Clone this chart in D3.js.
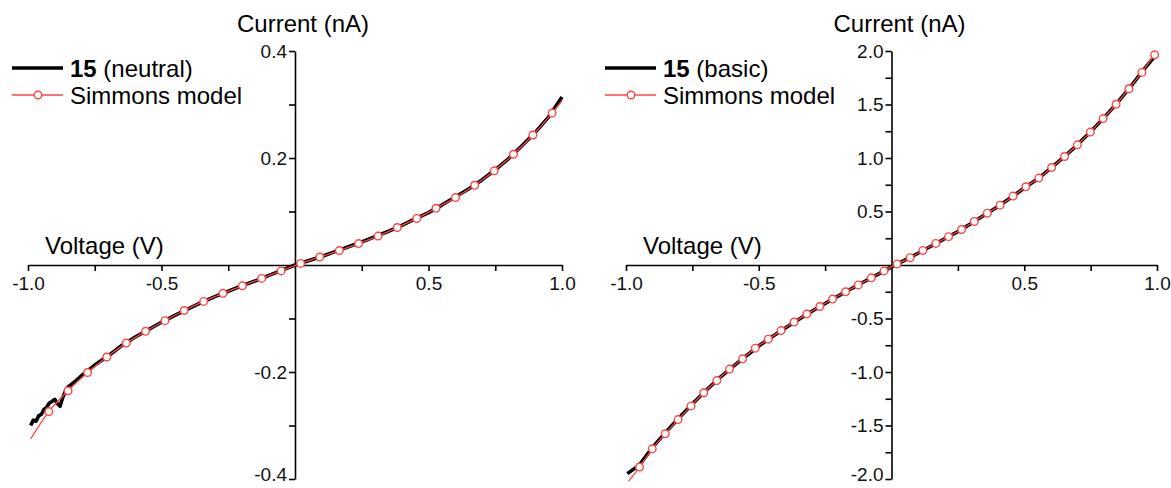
<!DOCTYPE html>
<html>
<head>
<meta charset="utf-8">
<script src="https://cdn.jsdelivr.net/npm/d3@7"></script>
<style>
  body { margin: 0; background: #fff; }
  svg { display: block; font-family: 'Liberation Sans', Arial, sans-serif; }
</style>
</head>
<body>
<div id="chart-area"></div>
<script>
// measured data, left panel (neutral)
const neutralV = [-0.99, -0.98, -0.97, -0.96, -0.95, -0.94, -0.93, -0.92, -0.91, -0.90, -0.89, -0.88, -0.87, -0.86, -0.85, -0.84, -0.82, -0.80, -0.78, -0.75,
  -0.70, -0.65, -0.60, -0.55, -0.50, -0.45, -0.40, -0.35, -0.30, -0.25, -0.20, -0.15, -0.10, -0.05, 0.00,
  0.05, 0.10, 0.15, 0.20, 0.25, 0.30, 0.35, 0.40, 0.45, 0.50, 0.55, 0.60, 0.65, 0.70, 0.75, 0.80, 0.85, 0.90, 0.95, 1.00]
const neutralI = [-0.300, -0.290, -0.292, -0.282, -0.279, -0.270, -0.266, -0.258, -0.255, -0.251, -0.259, -0.264, -0.248, -0.236, -0.228, -0.224, -0.216, -0.207, -0.199, -0.187,
  -0.170, -0.151, -0.135, -0.121, -0.107, -0.094, -0.082, -0.070, -0.059, -0.049, -0.039, -0.030, -0.020, -0.010, 0.000,
  0.008, 0.016, 0.025, 0.034, 0.043, 0.053, 0.063, 0.074, 0.086, 0.098, 0.112, 0.127, 0.142, 0.159, 0.178, 0.199, 0.223, 0.248, 0.277, 0.314]

// Simmons fit, left panel
const neutralFitV = [-0.99, -0.922, -0.850, -0.777, -0.705, -0.632, -0.560, -0.487, -0.415, -0.342, -0.270, -0.197, -0.125, -0.052,
  0.021, 0.093, 0.166, 0.238, 0.311, 0.383, 0.456, 0.528, 0.601, 0.673, 0.746, 0.818, 0.891, 0.963, 1.00]
const neutralFitI = [-0.325, -0.274, -0.235, -0.201, -0.172, -0.146, -0.124, -0.104, -0.085, -0.068, -0.053, -0.039, -0.025, -0.011,
  0.003, 0.015, 0.027, 0.040, 0.054, 0.070, 0.087, 0.106, 0.126, 0.149, 0.176, 0.207, 0.243, 0.284, 0.307]

// measured data, right panel (basic)
const basicV = [-0.995, -0.95, -0.90, -0.85, -0.80, -0.75, -0.70, -0.65, -0.60, -0.55, -0.50, -0.45, -0.40, -0.35, -0.30, -0.25, -0.20, -0.15, -0.10, -0.05, 0.00,
  0.05, 0.10, 0.15, 0.20, 0.25, 0.30, 0.35, 0.40, 0.45, 0.50, 0.55, 0.60, 0.65, 0.70, 0.75, 0.80, 0.85, 0.90, 0.95, 1.00]
const basicI = [-1.950, -1.870, -1.705, -1.562, -1.428, -1.300, -1.175, -1.060, -0.955, -0.855, -0.757, -0.670, -0.589, -0.509, -0.433, -0.360, -0.289, -0.220, -0.152, -0.085, -0.018,
  0.045, 0.110, 0.178, 0.245, 0.312, 0.388, 0.468, 0.545, 0.630, 0.720, 0.803, 0.905, 1.010, 1.123, 1.245, 1.375, 1.515, 1.665, 1.825, 1.975]

// Simmons fit, right panel
const basicFitV = [-0.99, -0.949, -0.901, -0.852, -0.804, -0.755, -0.707, -0.658, -0.610, -0.561, -0.513, -0.464, -0.416, -0.367, -0.319, -0.270, -0.222, -0.173, -0.125, -0.076, -0.028,
  0.021, 0.070, 0.118, 0.167, 0.215, 0.264, 0.312, 0.361, 0.409, 0.458, 0.506, 0.555, 0.603, 0.652, 0.700, 0.749, 0.797, 0.846, 0.894, 0.943, 0.991, 1.00]
const basicFitI = [-2.020, -1.888, -1.718, -1.577, -1.445, -1.317, -1.194, -1.080, -0.973, -0.877, -0.777, -0.693, -0.613, -0.533, -0.459, -0.388, -0.318, -0.250, -0.186, -0.120, -0.055,
  0.010, 0.068, 0.136, 0.202, 0.265, 0.332, 0.407, 0.484, 0.559, 0.644, 0.731, 0.812, 0.911, 1.014, 1.123, 1.242, 1.368, 1.502, 1.647, 1.800, 1.965, 1.990]

const xTicks = [-1.0, -0.5, 0.5, 1.0]
const xMinor = [-0.75, -0.25, 0.25, 0.75]
const neutralYTicks = [-0.4, -0.2, 0.2, 0.4]
const neutralYMinor = [-0.3, -0.1, 0.1, 0.3]
const basicYTicks = [-2.0, -1.5, -1.0, -0.5, 0.5, 1.0, 1.5, 2.0]
const basicYMinor = [-1.75, -1.25, -0.75, -0.25, 0.25, 0.75, 1.25, 1.75]

const red = '#ff4545'

const svg = d3.select('#chart-area')
  .append('svg')
    .attr('width', 1171)
    .attr('height', 488)

function drawPanel(p) {
  const x = d3.scaleLinear().domain([-1, 1]).range([p.left, p.right])
  const y = d3.scaleLinear().domain([-p.yMax, p.yMax]).range([479, 51])
  const g = svg.append('g')
  const fmt = d => d.toFixed(1)

  // x axis through y = 0
  g.append('g')
    .attr('transform', `translate(0,${y(0)})`)
    .call(d3.axisBottom(x).tickValues(p.xTicks).tickFormat(fmt).tickSize(6).tickSizeOuter(0).tickPadding(6))
  g.append('g')
    .attr('transform', `translate(0,${y(0)})`)
    .call(d3.axisBottom(x).tickValues(p.xMinor).tickFormat('').tickSize(6).tickSizeOuter(0))
    .select('.domain').remove()

  // y axis through x = 0
  const yAxis = g.append('g')
    .attr('transform', `translate(${x(0)},0)`)
    .call(d3.axisLeft(y).tickValues(p.yTicks).tickFormat(fmt).tickSize(6).tickSizeOuter(0).tickPadding(2))
  g.append('g')
    .attr('transform', `translate(${x(0)},0)`)
    .call(d3.axisLeft(y).tickValues(p.yMinor).tickFormat('').tickSize(6).tickSizeOuter(0))
    .select('.domain').remove()

  g.selectAll('.domain, .tick line').attr('stroke', '#000').attr('stroke-width', 1.6)
  g.selectAll('.tick text').attr('font-size', '19px').attr('fill', '#111')
    .attr('font-family', "'Liberation Sans', Arial, sans-serif")

  // lowest label sits on the page edge, nudge it up a little
  yAxis.selectAll('.tick text').filter(d => d === -p.yMax).attr('dy', '0.1em')

  g.append('text')
    .attr('x', x(0) + 8)
    .attr('y', 32)
    .attr('font-size', '24px')
    .attr('text-anchor', 'middle')
    .text('Current (nA)')

  g.append('text')
    .attr('x', x(-1) + 17)
    .attr('y', 254)
    .attr('font-size', '24px')
    .text('Voltage (V)')

  const line = d3.line()
    .x(d => x(d[0]))
    .y(d => y(d[1]))

  const data = p.v.map((v, i) => [v, p.i[i]])
  const fit = p.fitV.map((v, i) => [v, p.fitI[i]])

  g.append('path')
    .datum(data)
    .attr('fill', 'none')
    .attr('stroke', '#000')
    .attr('stroke-width', 3.6)
    .attr('stroke-linejoin', 'round')
    .attr('d', line)

  g.append('path')
    .datum(fit)
    .attr('fill', 'none')
    .attr('stroke', red)
    .attr('stroke-width', 1.3)
    .attr('d', line.curve(d3.curveMonotoneX))

  // markers on every fit point except the two ends
  g.selectAll('circle.fit')
    .data(fit.slice(1, -1))
    .enter()
    .append('circle')
      .attr('class', 'fit')
      .attr('cx', d => x(d[0]))
      .attr('cy', d => y(d[1]))
      .attr('r', 3.8)
      .attr('fill', '#fff')
      .attr('stroke', red)
      .attr('stroke-width', 1.4)

  // legend
  const lg = g.append('g').attr('transform', `translate(${p.legendX},0)`)
  lg.append('line')
    .attr('x1', 0).attr('x2', 51).attr('y1', 68).attr('y2', 68)
    .attr('stroke', '#000').attr('stroke-width', 3.6)
  const t = lg.append('text').attr('x', 58).attr('y', 77).attr('font-size', '24px')
  t.append('tspan').attr('font-weight', 'bold').text('15')
  t.append('tspan').text(' ' + p.label)

  lg.append('line')
    .attr('x1', 0).attr('x2', 51).attr('y1', 95).attr('y2', 95)
    .attr('stroke', red).attr('stroke-width', 1.3)
  lg.append('circle')
    .attr('cx', 26).attr('cy', 95).attr('r', 3.8)
    .attr('fill', '#fff').attr('stroke', red).attr('stroke-width', 1.4)
  lg.append('text').attr('x', 58).attr('y', 104).attr('font-size', '24px').text('Simmons model')
}

drawPanel({
  left: 28, right: 562, yMax: 0.4,
  xTicks: xTicks, xMinor: xMinor, yTicks: neutralYTicks, yMinor: neutralYMinor,
  v: neutralV, i: neutralI, fitV: neutralFitV, fitI: neutralFitI,
  legendX: 12, label: '(neutral)'
})

drawPanel({
  left: 626, right: 1157, yMax: 2.0,
  xTicks: xTicks, xMinor: xMinor, yTicks: basicYTicks, yMinor: basicYMinor,
  v: basicV, i: basicI, fitV: basicFitV, fitI: basicFitI,
  legendX: 605, label: '(basic)'
})
</script>
</body>
</html>
